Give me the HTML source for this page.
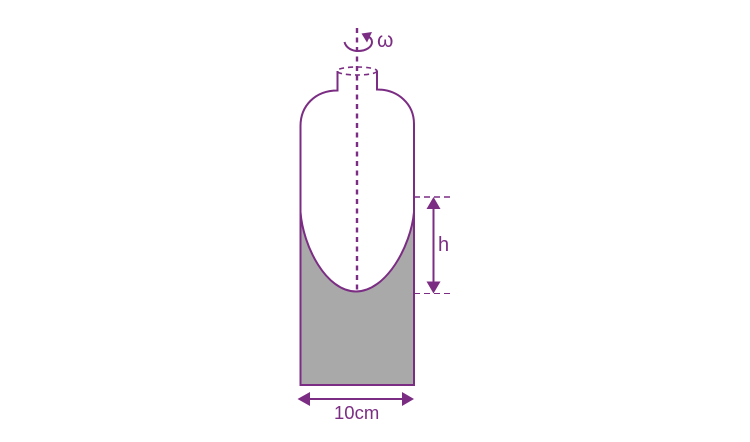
<!DOCTYPE html>
<html>
<head>
<meta charset="utf-8">
<style>
html,body{margin:0;padding:0;background:#fff;}
svg{display:block;}
text{font-family:"Liberation Sans",sans-serif;fill:#7b2d83;}
</style>
</head>
<body>
<svg width="750" height="442" viewBox="0 0 750 442">
  <path d="M300.5 212 C303 246 326 291.5 356 291.5 C386 291.5 411 246 414 212 V385 H300.5 Z" fill="#a9a9a9"/>
  <path d="M337.5 71 V90.5 C315 90.5 300.5 106 300.5 126 V385 H414 V124 C414 104 398 89.5 377 89.5 V71" fill="none" stroke="#7b2d83" stroke-width="2"/>
  <path d="M300.5 212 C303 246 326 291.5 356 291.5 C386 291.5 411 246 414 212" fill="none" stroke="#7b2d83" stroke-width="2"/>
  <ellipse cx="357" cy="71" rx="20" ry="4" fill="none" stroke="#7b2d83" stroke-width="1.6" stroke-dasharray="5 4"/>
  <line x1="357" y1="28" x2="357" y2="290" stroke="#7b2d83" stroke-width="2.4" stroke-dasharray="5 4.5"/>
  <path d="M344.5 42 C346 48 352 51 358 51 C366 51 372 47 372 42 C372 39 370 37 367 36" fill="none" stroke="#7b2d83" stroke-width="2"/>
  <polygon points="361.5,33.5 372,32 367,42.5" fill="#7b2d83"/>
  <text x="377" y="47" font-size="21">ω</text>
  <line x1="414" y1="197" x2="452" y2="197" stroke="#7b2d83" stroke-width="1.4" stroke-dasharray="6 4"/>
  <line x1="414" y1="293.5" x2="452" y2="293.5" stroke="#7b2d83" stroke-width="1" stroke-dasharray="6 4"/>
  <line x1="433.5" y1="205" x2="433.5" y2="286" stroke="#7b2d83" stroke-width="2"/>
  <polygon points="433.5,197 440.5,209 426.5,209" fill="#7b2d83"/>
  <polygon points="433.5,293.5 440.5,281.5 426.5,281.5" fill="#7b2d83"/>
  <text x="438" y="251" font-size="20">h</text>
  <line x1="305" y1="399" x2="407" y2="399" stroke="#7b2d83" stroke-width="2"/>
  <polygon points="297.5,399 310,392 310,406" fill="#7b2d83"/>
  <polygon points="414,399 402,392 402,406" fill="#7b2d83"/>
  <text x="334" y="419" font-size="18.5">10cm</text>
</svg>
</body>
</html>
